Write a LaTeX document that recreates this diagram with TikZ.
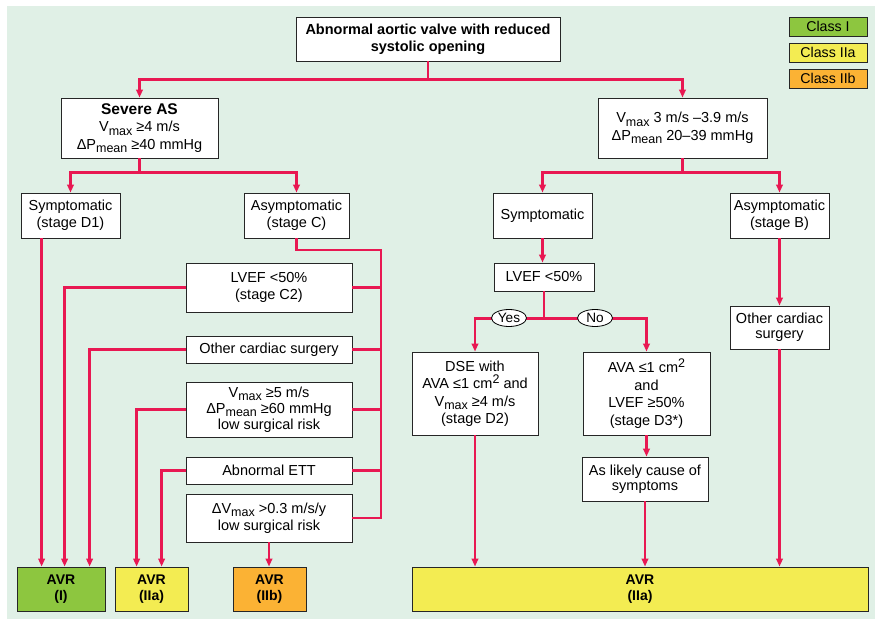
\documentclass[tikz,border=0pt]{standalone}
\usepackage{fontspec}
\setmainfont{Liberation Sans}
\usetikzlibrary{shapes.geometric,shadows,arrows.meta}
\definecolor{bg}{RGB}{224,240,230}
\definecolor{lnred}{RGB}{232,24,82}
\definecolor{cI}{RGB}{141,198,63}
\definecolor{cIIa}{RGB}{243,236,82}
\definecolor{cIIb}{RGB}{251,178,52}
\newcommand\sbs[1]{\raisebox{-3.5pt}{\fontsize{12.5}{12.5}\selectfont #1}}
\newcommand\sps[1]{\raisebox{5pt}{\fontsize{12.5}{12.5}\selectfont #1}}
\begin{document}
\begin{tikzpicture}[x=1pt,y=-1pt,
  box/.style={draw=black!85, line width=0.8pt, fill=white, align=center, inner sep=0pt,
    font=\fontsize{14.5}{17.5}\selectfont,
    drop shadow={shadow xshift=1.4pt, shadow yshift=-1.4pt, fill=black!55, opacity=1}},
  sz/.style 2 args={minimum width=#1pt, minimum height=#2pt},
  tight/.style={font=\fontsize{14.5}{15.2}\selectfont},
  mid/.style={font=\fontsize{14.5}{16.2}\selectfont},
  avr/.style={box, font=\bfseries\fontsize{14}{15.5}\selectfont},
  lg/.style={box, sz={78}{19}, font=\fontsize{14.2}{16}\selectfont},
  ell/.style={ellipse, draw=black, line width=0.8pt, fill=white, minimum width=35pt, minimum height=17pt, inner sep=0pt, font=\fontsize{13.6}{15}\selectfont},
  ln/.style={draw=lnred, line width=2.4pt},
  arr/.style={ln, -{Triangle[length=8pt,width=6.5pt]}}]
\useasboundingbox (0,0) rectangle (875,620);
\fill[white] (0,0) rectangle (875,620);
\fill[bg] (7,6) rectangle (875,619);

% legend
\node[lg, fill=cI] (lgI) at (828,26.5) {Class I};
\node[lg, fill=cIIa] (lgIIa) at (828,52.5) {Class IIa};
\node[lg, fill=cIIb] (lgIIb) at (828,78.5) {Class IIb};

% nodes
\node[box, sz={264}{44}, font=\bfseries\fontsize{14.5}{17}\selectfont] (top) at (428,39) {Abnormal aortic valve with reduced\\systolic opening};
\node[box, sz={157}{60}] (severe) at (139.5,128) {{\bfseries\fontsize{15.5}{17.5}\selectfont Severe AS}\\V\sbs{max} ≥4 m/s\\ΔP\sbs{mean} ≥40 mmHg};
\node[box, sz={169}{60}] (mod) at (682.5,128) {V\sbs{max} 3 m/s –3.9 m/s\\ΔP\sbs{mean} 20–39 mmHg};

\node[box, sz={99}{45}] (symD1) at (70.5,215.5) {Symptomatic\\(stage D1)};
\node[box, sz={105}{45}] (asymC) at (296.5,215.5) {Asymptomatic\\(stage C)};
\node[box, sz={99}{45}] (symR) at (542.5,215.5) {Symptomatic};
\node[box, sz={99}{45}] (asymB) at (779.5,215.5) {Asymptomatic\\(stage B)};

\node[box, sz={166}{49}] (c2) at (269,287.5) {LVEF <50\%\\(stage C2)};
\node[box, sz={166}{27}] (ocs) at (269,349.5) {Other cardiac surgery};
\node[box, sz={166}{55}, mid] (v5) at (269,409.5) {V\sbs{max} ≥5 m/s\\ΔP\sbs{mean} ≥60 mmHg\\low surgical risk};
\node[box, sz={166}{27}] (ett) at (269,470.5) {Abnormal ETT};
\node[box, sz={166}{48}] (dv) at (269,518) {ΔV\sbs{max} >0.3 m/s/y\\low surgical risk};

\node[box, sz={100}{28}] (lvef) at (544,277) {LVEF <50\%};
\node[box, sz={126}{83}] (dse) at (475,393.5) {DSE with\\AVA ≤1 cm\sps{2} and\\V\sbs{max} ≥4 m/s\\(stage D2)};
\node[box, sz={127}{83}] (ava) at (646.5,393.5) {AVA ≤1 cm\sps{2}\\and\\LVEF ≥50\%\\(stage D3*)};
\node[box, sz={126}{44}, tight] (cause) at (645,479) {As likely cause of\\symptoms};
\node[box, sz={99}{43}, tight] (ocsB) at (779.5,327.5) {Other cardiac\\surgery};

\node[avr, sz={88}{44}, fill=cI] (avr1) at (61,589) {AVR\\(I)};
\node[avr, sz={73}{44}, fill=cIIa] (avr2a) at (151.5,589) {AVR\\(IIa)};
\node[avr, sz={73}{44}, fill=cIIb] (avr2b) at (269.5,589) {AVR\\(IIb)};
\node[avr, sz={456}{44}, fill=cIIa] (avrbig) at (640,589) {AVR\\(IIa)};

% connectors top
\path (top.south) ++(0,18) coordinate (t1);
\draw[arr] (top.south) -- (t1) -| (severe.north);
\draw[arr] (t1) -| (mod.north);
\path (severe.south) ++(0,14) coordinate (s1);
\draw[arr] (severe.south) -- (s1) -| (symD1.north);
\draw[arr] (s1) -| (asymC.north);
\path (mod.south) ++(0,14) coordinate (m1);
\draw[arr] (mod.south) -- (m1) -| (symR.north);
\draw[arr] (m1) -| (asymB.north);

% stage C bus
\coordinate (cb) at (381,250);
\draw[ln] (asymC.south) |- (cb) -- (cb |- dv.east) -- (dv.east);
\draw[ln] (c2.east) -- (c2.east -| cb);
\draw[ln] (ocs.east) -- (ocs.east -| cb);
\draw[ln] (v5.east) -- (v5.east -| cb);
\draw[ln] (ett.east) -- (ett.east -| cb);

% to AVR boxes (left)
\draw[arr] ([xshift=21pt]symD1.south west) -- ([xshift=25pt]avr1.north west);
\draw[arr] (c2.west) -| ([xshift=48pt]avr1.north west);
\draw[arr] (ocs.west) -| ([xshift=73pt]avr1.north west);
\draw[arr] (v5.west) -| ([xshift=22pt]avr2a.north west);
\draw[arr] (ett.west) -| ([xshift=47pt]avr2a.north west);
\draw[arr] (dv.south) -- (dv.south |- avr2b.north);

% right side
\draw[arr] (symR.south) -- (symR.south |- lvef.north);
\path (lvef.south) ++(0,27) coordinate (l1);
\draw[arr] (lvef.south) -- (l1) -| (dse.north);
\draw[arr] (l1) -| (ava.north);
\draw[arr] (ava.south) -- (ava.south |- cause.north);
\draw[arr] (cause.south) -- (cause.south |- avrbig.north);
\draw[arr] (dse.south) -- (dse.south |- avrbig.north);
\draw[arr] (asymB.south) -- (asymB.south |- ocsB.north);
\draw[arr] (ocsB.south) -- (ocsB.south |- avrbig.north);

\node[ell] (yes) at (509,318) {Yes};
\node[ell] (no) at (595,318) {No};
\end{tikzpicture}
\end{document}
